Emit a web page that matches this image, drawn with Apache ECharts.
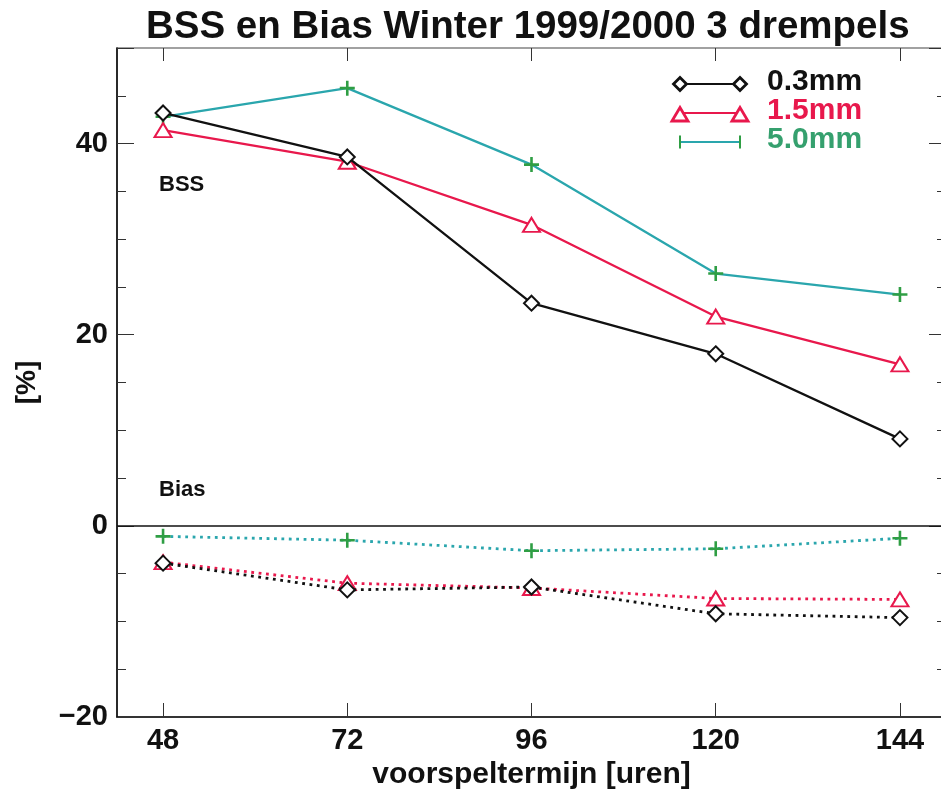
<!DOCTYPE html>
<html>
<head>
<meta charset="utf-8">
<script src="https://cdn.jsdelivr.net/npm/echarts@6/dist/echarts.min.js"></script>
<style>
  html, body { margin: 0; padding: 0; background: #ffffff; }
  #chart { width: 941px; height: 793px; }
</style>
</head>
<body>
<div id="chart"></div>
<script>
// Forecast lead times (hours)
const hours = [48, 72, 96, 120, 144];
// Precipitation thresholds
const thresholds = ['0.3mm', '1.5mm', '5.0mm'];

// Brier skill score [%] per threshold
const bss03 = [43.2, 38.6, 23.3, 18.0, 9.1];
const bss15 = [41.4, 38.1, 31.5, 21.9, 16.9];
const bss50 = [42.8, 45.8, 37.8, 26.4, 24.2];

// Bias [%] per threshold
const bias03 = [-3.9, -6.7, -6.4, -9.2, -9.6];
const bias15 = [-3.8, -6.0, -6.5, -7.6, -7.7];
const bias50 = [-1.1, -1.5, -2.6, -2.4, -1.3];

// Axis tick labels
const xTickValues = [48, 72, 96, 120, 144];
const yTickValues = [-20, 0, 20, 40];

const FONT = '"Liberation Sans", Arial, Helvetica, sans-serif';
const INK = '#111111';
const lineColors = ['#111111', '#e8184c', '#2aa6ad'];
const markerColors = ['#111111', '#e8184c', '#2f9e44'];
const textColors = ['#111111', '#e8184c', '#35a06e'];
const PLUS = 'path://M0,7L14,7M7,0L7,14';
const symbols = ['emptyDiamond', 'emptyTriangle', PLUS];
const symbolSizes = [[15, 15], [17, 14], [15, 15]];

const bssData = [bss03, bss15, bss50];
const biasData = [bias03, bias15, bias50];

const pairs = (vals) => hours.map((h, i) => [h, vals[i]]);

const series = [];
thresholds.forEach((name, i) => {
  series.push({
    name: name,
    type: 'line',
    data: pairs(bssData[i]),
    symbol: symbols[i],
    symbolSize: symbolSizes[i],
    showAllSymbol: true,
    lineStyle: { color: lineColors[i], width: 2.3 },
    itemStyle: { color: markerColors[i], borderColor: markerColors[i], borderWidth: 2.6 },
    z: 3 - i,
    animation: false
  });
});
thresholds.forEach((name, i) => {
  const s = {
    name: name + ' bias',
    type: 'line',
    data: pairs(biasData[i]),
    symbol: symbols[i],
    symbolSize: symbolSizes[i],
    lineStyle: { color: lineColors[i], width: 2.8, type: [2.8, 4.6], cap: 'butt' },
    itemStyle: { color: markerColors[i], borderColor: markerColors[i], borderWidth: 2.6 },
    z: 3 - i,
    animation: false
  };
  if (i === 0) {
    // zero reference line across the plot
    s.markLine = {
      silent: true,
      symbol: ['none', 'none'],
      label: { show: false },
      lineStyle: { color: INK, type: 'solid', width: 1.5 },
      data: [{ yAxis: 0 }],
      animation: false
    };
  }
  series.push(s);
});

// Legend: line with a marker at each end, then the threshold text
const legendEls = [];
thresholds.forEach((name, i) => {
  const y = 84 + 29 * i;
  const x1 = 680, x2 = 740;
  const col = markerColors[i];
  legendEls.push({
    type: 'line',
    shape: { x1: x1, y1: y, x2: x2, y2: y },
    style: { stroke: lineColors[i], lineWidth: 2.2 }
  });
  [x1, x2].forEach((cx) => {
    if (i === 0) {
      legendEls.push({
        type: 'polygon',
        shape: { points: [[cx - 6.5, y], [cx, y - 6.5], [cx + 6.5, y], [cx, y + 6.5]] },
        style: { fill: '#fff', stroke: col, lineWidth: 2.8 }
      });
    } else if (i === 1) {
      legendEls.push({
        type: 'polygon',
        shape: { points: [[cx - 8, y + 8], [cx, y - 5.5], [cx + 8, y + 8]] },
        style: { fill: '#fff', stroke: col, lineWidth: 2.8 }
      });
    } else {
      legendEls.push({
        type: 'line',
        shape: { x1: cx, y1: y - 6.5, x2: cx, y2: y + 6.5 },
        style: { stroke: col, lineWidth: 2 }
      });
    }
  });
  legendEls.push({
    type: 'text',
    x: 767,
    y: y - 2,
    style: {
      text: name,
      fill: textColors[i],
      font: 'bold 30px ' + FONT,
      verticalAlign: 'middle',
      align: 'left'
    }
  });
});

const panelLabels = [
  { text: 'BSS', x: 159, y: 185 },
  { text: 'Bias', x: 159, y: 490 }
].map((p) => ({
  type: 'text',
  x: p.x,
  y: p.y,
  style: {
    text: p.text,
    fill: INK,
    font: 'bold 22px ' + FONT,
    verticalAlign: 'middle',
    align: 'left'
  }
}));

const tickFont = { fontFamily: FONT, fontWeight: 'bold', fontSize: 29, color: INK };
const minus = (v) => (v < 0 ? '\u2212' + Math.abs(v) : String(v));

const option = {
  backgroundColor: '#ffffff',
  animation: false,
  title: {
    text: 'BSS en Bias Winter 1999/2000 3 drempels',
    left: 141,
    top: 3,
    textStyle: { fontFamily: FONT, fontWeight: 'bold', fontSize: 38.5, color: INK }
  },
  grid: {
    left: 117,
    top: 48,
    width: 829,
    height: 669,
    containLabel: false,
    outerBoundsMode: 'none',
    // plot frame; its right edge sits just past the canvas
    show: true,
    borderColor: '#444',
    borderWidth: 1.2,
    backgroundColor: 'transparent'
  },
  xAxis: [
    {
      type: 'value',
      position: 'bottom',
      min: 42,
      max: 150,
      axisLine: { show: true, onZero: false, lineStyle: { color: INK, width: 1.6 } },
      axisTick: { show: true, inside: true, length: 14, customValues: xTickValues, lineStyle: { color: '#333', width: 1 } },
      axisLabel: Object.assign({ customValues: xTickValues, margin: 9 }, tickFont),
      splitLine: { show: false },
      name: 'voorspeltermijn [uren]',
      nameLocation: 'middle',
      nameGap: 40,
      nameTextStyle: { fontFamily: FONT, fontWeight: 'bold', fontSize: 30, color: INK }
    },
    {
      type: 'value',
      position: 'top',
      min: 42,
      max: 150,
      axisLine: { show: false, onZero: false },
      axisTick: { show: true, inside: true, length: 13, customValues: xTickValues, lineStyle: { color: '#333', width: 1 } },
      axisLabel: { show: false },
      splitLine: { show: false }
    }
  ],
  yAxis: [
    {
      type: 'value',
      position: 'left',
      min: -20,
      max: 50,
      interval: 20,
      axisLine: { show: true, onZero: false, lineStyle: { color: INK, width: 1.6 } },
      axisTick: { show: true, inside: true, length: 17, lineStyle: { color: '#333', width: 1 } },
      axisLabel: Object.assign({ customValues: yTickValues, margin: 9, formatter: minus }, tickFont),
      splitLine: { show: false },
      name: '[%]',
      nameLocation: 'middle',
      nameGap: 76,
      nameRotate: 90,
      nameTextStyle: { fontFamily: FONT, fontWeight: 'bold', fontSize: 28, color: INK }
    },
    {
      type: 'value',
      position: 'left',
      min: -20,
      max: 50,
      interval: 5,
      axisLine: { show: false, onZero: false },
      axisTick: { show: true, inside: true, length: 9, lineStyle: { color: '#333', width: 1 } },
      axisLabel: { show: false },
      splitLine: { show: false }
    },
    {
      type: 'value',
      position: 'right',
      min: -20,
      max: 50,
      interval: 20,
      axisLine: { show: false, onZero: false },
      axisTick: { show: true, inside: true, length: 17, lineStyle: { color: '#333', width: 1 } },
      axisLabel: { show: false },
      splitLine: { show: false }
    },
    {
      type: 'value',
      position: 'right',
      min: -20,
      max: 50,
      interval: 5,
      axisLine: { show: false, onZero: false },
      axisTick: { show: true, inside: true, length: 9, lineStyle: { color: '#333', width: 1 } },
      axisLabel: { show: false },
      splitLine: { show: false }
    }
  ],
  graphic: legendEls.concat(panelLabels),
  series: series
};

const chart = echarts.init(document.getElementById('chart'), null, { renderer: 'canvas' });
chart.setOption(option);
</script>
</body>
</html>
